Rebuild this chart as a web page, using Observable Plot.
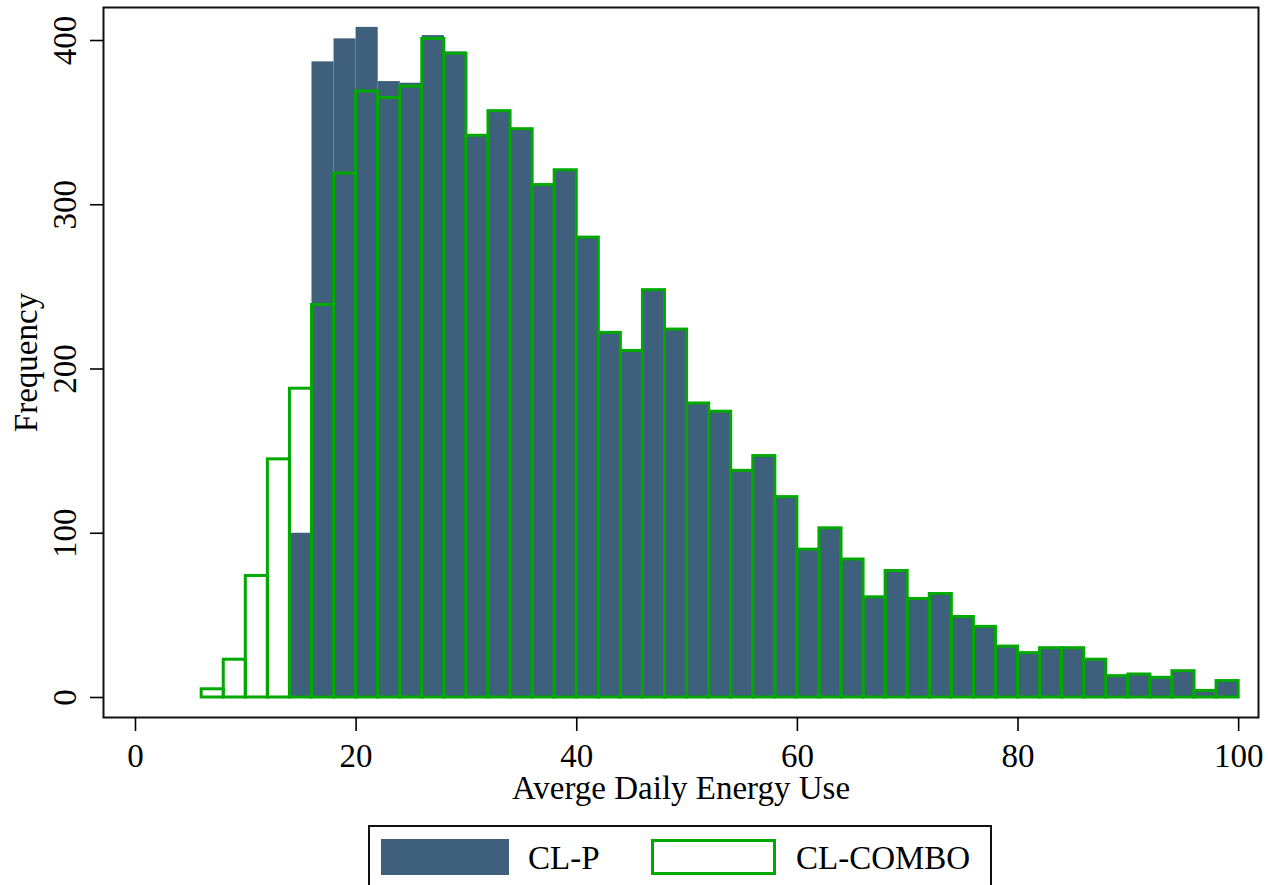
<!DOCTYPE html>
<html>
<head>
<meta charset="utf-8">
<script src="https://cdn.jsdelivr.net/npm/d3@7"></script>
<script src="https://cdn.jsdelivr.net/npm/@observablehq/plot@0.6"></script>
<style>
  html, body { margin: 0; padding: 0; background: white; }
  #wrap { position: relative; width: 1268px; height: 885px; overflow: hidden; background: white; font-family: "Liberation Serif", "Times New Roman", serif; }
  #legend { position: absolute; left: 368px; top: 825px; width: 624px; height: 90px; box-sizing: border-box; border: 2px solid #111; background: white; }
  .sw { position: absolute; box-sizing: border-box; }
  .lab { position: absolute; font-size: 33px; line-height: 36px; color: #000; }
</style>
</head>
<body>
<div id="wrap">
  <div id="chart"></div>
  <div id="legend"></div>
</div>
<script>
// Bin left edges (width 2)
const binStarts = [6, 8, 10, 12, 14, 16, 18, 20, 22, 24, 26, 28, 30, 32, 34, 36, 38, 40, 42, 44, 46, 48,
  50, 52, 54, 56, 58, 60, 62, 64, 66, 68, 70, 72, 74, 76, 78, 80, 82, 84, 86, 88, 90, 92, 94, 96, 98];
const binWidth = 2;

// CL-P frequencies
const clpValues = [0, 0, 0, 0, 100, 387, 401, 408, 375, 374, 403, 393, 342, 357, 346, 312, 321, 280, 222, 211, 248, 224,
  179, 174, 138, 147, 122, 90, 103, 84, 61, 77, 60, 63, 49, 43, 31, 27, 30, 30, 23, 13, 14, 12, 16, 4, 10];

// CL-COMBO frequencies
const comboValues = [5, 23, 74, 145, 188, 239, 319, 369, 365, 372, 401, 392, 342, 357, 346, 312, 321, 280, 222, 211, 248, 224,
  179, 174, 138, 147, 122, 90, 103, 84, 61, 77, 60, 63, 49, 43, 31, 27, 30, 30, 23, 13, 14, 12, 16, 4, 10];

const xTicks = [0, 20, 40, 60, 80, 100];
const yTicks = [0, 100, 200, 300, 400];
const seriesNames = ["CL-P", "CL-COMBO"];
const xTitle = "Averge Daily Energy Use";
const yTitle = "Frequency";

const clpColor = "#3e607c";
const comboColor = "#00a900";
const fs = 33;

const clpData = binStarts.map((s, i) => ({x1: s, x2: s + binWidth, v: clpValues[i]})).filter(d => d.v > 0);
const comboData = binStarts.map((s, i) => ({x1: s, x2: s + binWidth, v: comboValues[i]}));

const chart = Plot.plot({
  width: 1268,
  height: 825,
  marginTop: 7,
  marginBottom: 108,
  marginLeft: 103,
  marginRight: 10,
  x: {domain: [-2.9, 101.8]},
  y: {domain: [-12.18, 420.1]},
  style: {fontFamily: "Liberation Serif", fontSize: fs + "px", background: "white", color: "black"},
  marks: [
    Plot.rectY(clpData, {x1: "x1", x2: "x2", y: "v", fill: clpColor, inset: 0}),
    Plot.rectY(comboData, {x1: "x1", x2: "x2", y: "v", fill: "none", stroke: comboColor, strokeWidth: 3, inset: 0}),
    Plot.frame({stroke: "#111", strokeWidth: 2}),
    Plot.axisX({ticks: xTicks, tickSize: 14, tickFormat: () => "", label: null, strokeWidth: 1.6}),
    Plot.axisY({ticks: yTicks, tickSize: 13, tickFormat: () => "", label: null, strokeWidth: 1.6}),
    Plot.text(xTicks, {x: d => d, frameAnchor: "bottom", dy: 49, text: d => String(d), fontSize: fs, fill: "black", textAnchor: "middle"}),
    Plot.text(yTicks, {y: d => d, frameAnchor: "left", dx: -38, rotate: -90, text: d => String(d), fontSize: fs, fill: "black", textAnchor: "middle"}),
    Plot.text([xTitle], {frameAnchor: "bottom", dy: 81, text: d => d, fontSize: fs, fill: "black", textAnchor: "middle"}),
    Plot.text([yTitle], {frameAnchor: "left", dx: -77, rotate: -90, text: d => d, fontSize: fs, fill: "black", textAnchor: "middle"})
  ]
});
document.getElementById("chart").appendChild(chart);

// Legend
const legend = document.getElementById("legend");
const items = [
  {name: seriesNames[0], sw: {left: 11, top: 12, w: 128, h: 36, bg: clpColor, border: "none"}, labLeft: 158},
  {name: seriesNames[1], sw: {left: 281, top: 12, w: 125, h: 36, bg: "white", border: "3px solid " + comboColor}, labLeft: 426}
];
items.forEach(it => {
  const s = document.createElement("div");
  s.className = "sw";
  s.style.left = it.sw.left + "px";
  s.style.top = it.sw.top + "px";
  s.style.width = it.sw.w + "px";
  s.style.height = it.sw.h + "px";
  s.style.background = it.sw.bg;
  s.style.border = it.sw.border;
  legend.appendChild(s);
  const l = document.createElement("div");
  l.className = "lab";
  l.style.left = it.labLeft + "px";
  l.style.top = "13px";
  l.textContent = it.name;
  legend.appendChild(l);
});
</script>
</body>
</html>
